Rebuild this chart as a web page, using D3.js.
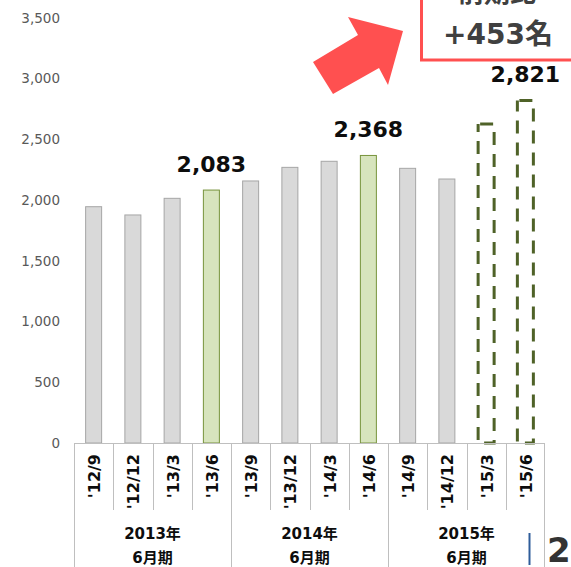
<!DOCTYPE html>
<html>
<head>
<meta charset="utf-8">
<script src="https://cdn.jsdelivr.net/npm/d3@7"></script>
<style>
  html, body { margin: 0; padding: 0; background: #fff; overflow: hidden; }
  svg { display: block; }
</style>
</head>
<body>
<svg id="chart"></svg>
<script>
// quarterly headcount, fiscal year ends in June
const categories = ["'12/9", "'12/12", "'13/3", "'13/6", "'13/9", "'13/12", "'14/3", "'14/6", "'14/9", "'14/12", "'15/3", "'15/6"];
const values = [1946, 1878, 2015, 2083, 2158, 2270, 2320, 2368, 2262, 2174, 2627, 2821];
const barKind = ["past", "past", "past", "fy", "past", "past", "past", "fy", "past", "past", "plan", "plan"];
const valueLabels = ["", "", "", "2,083", "", "", "", "2,368", "", "", "", "2,821"];
const groups = ["2013年", "2014年", "2015年"];
const groupSub = "6月期";
const yTicks = [0, 500, 1000, 1500, 2000, 2500, 3000, 3500];
const callout = ["前期比", "+453名"];

const width = 571, height = 567;
const font = "'DejaVu Sans', 'Noto Sans CJK JP', sans-serif";

const svg = d3.select('#chart').attr('width', width).attr('height', height)
  .style('font-family', font);

const x = d3.scaleBand().domain(categories).range([74, 545]).paddingInner(0).paddingOuter(0);
const y = d3.scaleLinear().domain([0, 3500]).range([443, 18]);
const barW = 16;

// y tick labels only, no axis line
svg.append('g').selectAll('text').data(yTicks).enter().append('text')
  .attr('x', 60).attr('y', d => y(d)).attr('dy', '0.35em')
  .attr('text-anchor', 'end').attr('font-size', 13.5).attr('fill', '#595959')
  .text(d => d3.format(',')(d));

// bars
const bars = svg.append('g');
categories.forEach((c, i) => {
  const cx = x(c) + x.bandwidth() / 2;
  const kind = barKind[i];
  const r = bars.append('rect')
    .attr('x', cx - barW / 2).attr('width', barW)
    .attr('y', y(values[i])).attr('height', y(0) - y(values[i]));
  if (kind === 'past') r.attr('fill', '#d9d9d9').attr('stroke', '#a6a6a6').attr('stroke-width', 1);
  else if (kind === 'fy') r.attr('fill', '#d7e4bd').attr('stroke', '#77933c').attr('stroke-width', 1);
  else r.attr('fill', 'none').attr('stroke', '#4f6228').attr('stroke-width', 3)
    .attr('stroke-dasharray', '13,9').attr('stroke-dashoffset', -2);
});

// value labels
svg.append('g').selectAll('text').data(categories).enter().append('text')
  .attr('x', d => x(d) + x.bandwidth() / 2)
  .attr('y', (d, i) => y(values[i]) - 18)
  .attr('text-anchor', 'middle').attr('font-size', 22).attr('font-weight', 'bold').attr('fill', '#0d0d0d')
  .text((d, i) => valueLabels[i]);

// category axis with two levels
const axisG = svg.append('g').attr('stroke', '#bfbfbf').attr('stroke-width', 1);
axisG.append('line').attr('x1', 74).attr('x2', 545).attr('y1', 443.5).attr('y2', 443.5);
categories.forEach((c, i) => {
  const xx = Math.round(x(c)) + 0.5;
  const isGroupEdge = i % 4 === 0;
  axisG.append('line').attr('x1', xx).attr('x2', xx).attr('y1', 443).attr('y2', isGroupEdge ? height : 510);
});
axisG.append('line').attr('x1', 544.5).attr('x2', 544.5).attr('y1', 443).attr('y2', height);

svg.append('g').selectAll('text').data(categories).enter().append('text')
  .attr('transform', d => `translate(${x(d) + x.bandwidth() / 2 + 1},454) rotate(-90)`)
  .attr('text-anchor', 'end').attr('dy', '0.35em')
  .attr('font-size', 16).attr('font-weight', 'bold').attr('fill', '#0d0d0d')
  .text(d => d);

const groupG = svg.append('g').attr('font-size', 15).attr('font-weight', 'bold').attr('fill', '#0d0d0d')
  .attr('text-anchor', 'middle');
groups.forEach((g, gi) => {
  const x0 = x(categories[gi * 4]);
  const x1 = x(categories[gi * 4 + 3]) + x.bandwidth();
  groupG.append('text').attr('x', (x0 + x1) / 2).attr('y', 534).attr('dy', '0.35em').text(g);
  groupG.append('text').attr('x', (x0 + x1) / 2).attr('y', 558).attr('dy', '0.35em').text(groupSub);
});

// red arrow
svg.append('polygon')
  .attr('points', [[403, 31], [348, 17], [358, 35], [313, 62], [333, 94], [379, 68], [388, 85]].map(p => p.join(',')).join(' '))
  .attr('fill', '#ff5050');

// callout box
svg.append('rect').attr('x', 421.5).attr('y', -10).attr('width', 170).attr('height', 70)
  .attr('fill', '#fff').attr('stroke', '#ff5050').attr('stroke-width', 3);
svg.append('text').attr('x', 497).attr('y', 2).attr('text-anchor', 'middle')
  .attr('font-size', 26).attr('font-weight', 'bold').attr('fill', '#404040').text(callout[0]);
svg.append('text').attr('x', 498).attr('y', 44).attr('text-anchor', 'middle')
  .attr('font-size', 28).attr('font-weight', 'bold').attr('fill', '#404040').text(callout[1]);

// page footer fragments
svg.append('line').attr('x1', 529.5).attr('x2', 529.5).attr('y1', 533).attr('y2', 565)
  .attr('stroke', '#2e5d9a').attr('stroke-width', 2);
svg.append('text').attr('x', 547).attr('y', 562).attr('font-size', 34).attr('font-weight', 'bold')
  .attr('fill', '#333').text('23');
</script>
</body>
</html>
